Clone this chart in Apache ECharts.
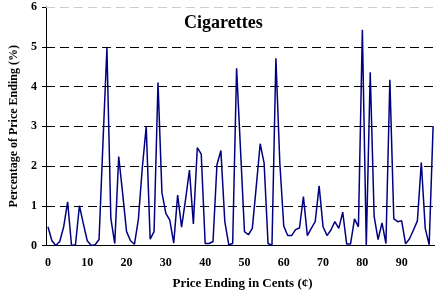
<!DOCTYPE html>
<html>
<head>
<meta charset="utf-8">
<script src="https://cdn.jsdelivr.net/npm/echarts@6/dist/echarts.min.js"></script>
<style>
  html, body { margin: 0; padding: 0; background: #fff; }
  #chart { width: 435px; height: 299px; }
</style>
</head>
<body>
<div id="chart"></div>
<script>
// price endings 0..99 cents
var cents = [];
for (var c = 0; c < 100; c++) cents.push(String(c));

// share of prices with that ending (%)
var pctEnding = [
    0.47, 0.12, 0.00, 0.10, 0.47, 1.10, 0.00, 0.02, 1.00, 0.55,
    0.12, 0.00, 0.02, 0.15, 2.60, 4.97, 0.68, 0.05, 2.24, 1.31,
    0.35, 0.12, 0.03, 0.65, 1.95, 2.99, 0.16, 0.35, 4.10, 1.33,
    0.81, 0.64, 0.06, 1.27, 0.46, 1.15, 1.90, 0.54, 2.46, 2.30,
    0.05, 0.05, 0.10, 2.03, 2.39, 0.60, 0.02, 0.05, 4.46, 2.40,
    0.35, 0.27, 0.43, 1.48, 2.56, 2.07, 0.05, 0.00, 4.71, 2.07,
    0.49, 0.25, 0.25, 0.40, 0.44, 1.23, 0.25, 0.43, 0.60, 1.50,
    0.47, 0.25, 0.39, 0.60, 0.43, 0.84, 0.04, 0.04, 0.67, 0.47,
    5.43, 0.00, 4.36, 0.73, 0.15, 0.57, 0.05, 4.17, 0.67, 0.60,
    0.62, 0.04, 0.17, 0.39, 0.62, 2.09, 0.43, 0.02, 3.00, null
];

var yTicks = [0, 1, 2, 3, 4, 5, 6];

var serif = '"Liberation Serif", "Times New Roman", serif';

// dashed gridlines: black inside the plot, pale grey on the top line
var gridLines = [];
for (var k = 1; k < yTicks.length; k++) {
    var isTopLine = (k === yTicks.length - 1);
    gridLines.push({
        yAxis: yTicks[k],
        lineStyle: { color: isTopLine ? '#cccccc' : '#000000', type: [9, 5], width: 1 }
    });
}

var myChart = echarts.init(document.getElementById('chart'), null, { renderer: 'canvas' });

myChart.setOption({
    animation: false,
    title: {
        text: 'Cigarettes',
        left: 179,
        top: 9,
        textStyle: { fontFamily: serif, fontWeight: 'bold', fontSize: 18, color: '#000' }
    },
    // plot runs a little past the right edge of the picture
    grid: { left: 46, width: 393, top: 7, bottom: 53.5, containLabel: false, outerBoundsMode: 'none' },
    xAxis: {
        type: 'category',
        data: cents,
        boundaryGap: true,
        name: 'Price Ending in Cents (\u00a2)',
        nameLocation: 'middle',
        nameGap: 32,
        nameTextStyle: { fontFamily: serif, fontWeight: 'bold', fontSize: 13, color: '#000' },
        axisLine: { lineStyle: { color: '#000', width: 1 } },
        axisTick: { interval: 9, length: 4, lineStyle: { color: '#000' } },
        axisLabel: {
            interval: 9, margin: 11,
            fontFamily: serif, fontWeight: 'bold', fontSize: 12, color: '#000'
        },
        splitLine: { show: false }
    },
    yAxis: {
        type: 'value',
        min: yTicks[0],
        max: yTicks[yTicks.length - 1],
        interval: 1,
        name: 'Percentage of Price Ending (%)',
        nameLocation: 'middle',
        nameGap: 23,
        nameTextStyle: { fontFamily: serif, fontWeight: 'bold', fontSize: 12, color: '#000' },
        axisLine: { show: true, lineStyle: { color: '#000', width: 1 } },
        axisTick: { show: true, length: 4, lineStyle: { color: '#000' } },
        axisLabel: { margin: 9, fontFamily: serif, fontWeight: 'bold', fontSize: 12, color: '#000' },
        splitLine: { show: false }
    },
    series: [{
        name: 'Cigarettes',
        type: 'line',
        data: pctEnding,
        symbol: 'none',
        connectNulls: false,
        z: 3,
        lineStyle: { color: '#000080', width: 1.5 },
        markLine: {
            silent: true,
            symbol: 'none',
            z: 1,
            label: { show: false },
            data: gridLines
        }
    }]
});
</script>
</body>
</html>
